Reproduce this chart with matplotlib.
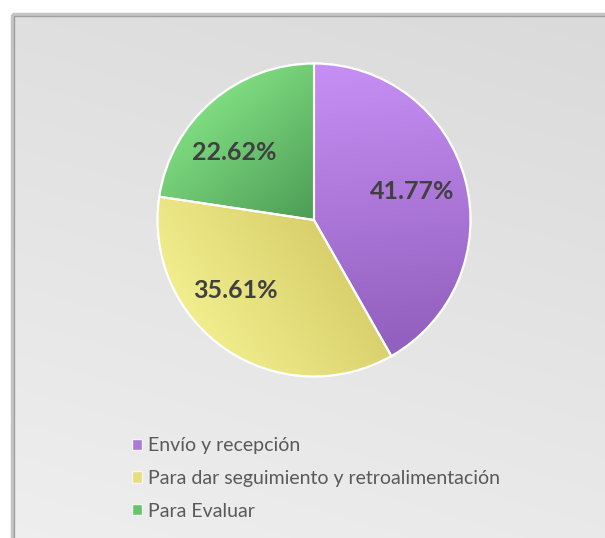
import numpy as np
import matplotlib.pyplot as plt
from matplotlib.colors import to_rgb
from matplotlib.patches import Rectangle, PathPatch

labels = ['Envío y recepción', 'Para dar seguimiento y retroalimentación', 'Para Evaluar']
values = [41.77, 35.61, 22.62]
pct_text = ['41.77%', '35.61%', '22.62%']

# gradient per wedge: (start point, end point, start colour, end colour)
grads = [((0.2, 1.0), (0.4, -0.8), '#c78ff4', '#9260bf'),
         ((-0.9, -0.5), (0.0, 0.1), '#f2ee8e', '#d7ce6a'),
         ((-0.7, 0.8), (0.0, 0.0), '#82e082', '#4c9c56')]
mid_cols = ['#ad78dc', '#e6df7c', '#68c46c']

W, H = 605, 538
fig = plt.figure(figsize=(W / 100, H / 100), dpi=100)
fig.patch.set_facecolor('white')

# background panel
bg = fig.add_axes([0, 0, 1, 1])
bg.set_xlim(0, W)
bg.set_ylim(H, 0)
bg.axis('off')
yy, xx = np.mgrid[0:H, 0:W]
shade = 0.855 + 0.06 * (yy / H) + 0.02 * (1 - xx / W)
img = np.dstack([shade, shade, shade])
bg.imshow(img, extent=(14, W, H, 16), zorder=0, aspect='auto')
bg.add_patch(Rectangle((12, 14), W, H, facecolor='none', edgecolor='#c4c4c4', lw=2.5, zorder=1))
bg.add_patch(Rectangle((14, 16), W, H, facecolor='none', edgecolor='#a0a0a0', lw=1, zorder=2))

# pie
cx, cy, r = 314, 220, 158
ax = fig.add_axes([(cx - r) / W, (H - cy - r) / H, 2 * r / W, 2 * r / H])
wedges, _ = ax.pie(values, startangle=90, counterclock=False, colors=mid_cols,
                   radius=1.0, wedgeprops=dict(edgecolor='white', linewidth=1.5))
ax.set_xlim(-1.01, 1.01)
ax.set_ylim(-1.01, 1.01)
ax.set_aspect('equal')

gy, gx = np.mgrid[1:-1:400j, -1:1:400j]
for w, (p0, p1, c0, c1) in zip(wedges, grads):
    d = np.array(p1) - np.array(p0)
    t = ((gx - p0[0]) * d[0] + (gy - p0[1]) * d[1]) / (d @ d)
    t = np.clip(t, 0, 1)[..., None]
    g = np.array(to_rgb(c0)) * (1 - t) + np.array(to_rgb(c1)) * t
    im = ax.imshow(g, extent=(-1, 1, -1, 1), zorder=1.5)
    im.set_clip_path(w)
    w.set_zorder(1)
    ax.add_patch(PathPatch(w.get_path().transformed(w.get_patch_transform()),
                           facecolor='none', edgecolor='white', lw=1.5, zorder=2))

label_pos = [(0.63, 0.18), (-0.5, -0.45), (-0.51, 0.43)]
for (x, y), s in zip(label_pos, pct_text):
    ax.text(x, y, s, ha='center', va='center', fontsize=18, fontweight='bold',
            color='#404040', family='Lato', zorder=3)

leg = fig.legend(wedges, labels, loc='upper left', bbox_to_anchor=(114 / W, 1 - 420 / H),
                 frameon=False, handlelength=0.52, handleheight=0.52, handletextpad=0.35,
                 labelspacing=0.8, prop=dict(family='Lato', size=14), labelcolor='#595959')
for h in leg.legend_handles:
    h.set_edgecolor('#f4f4f4')
    h.set_linewidth(1)

fig.savefig('out.png', dpi=100)
